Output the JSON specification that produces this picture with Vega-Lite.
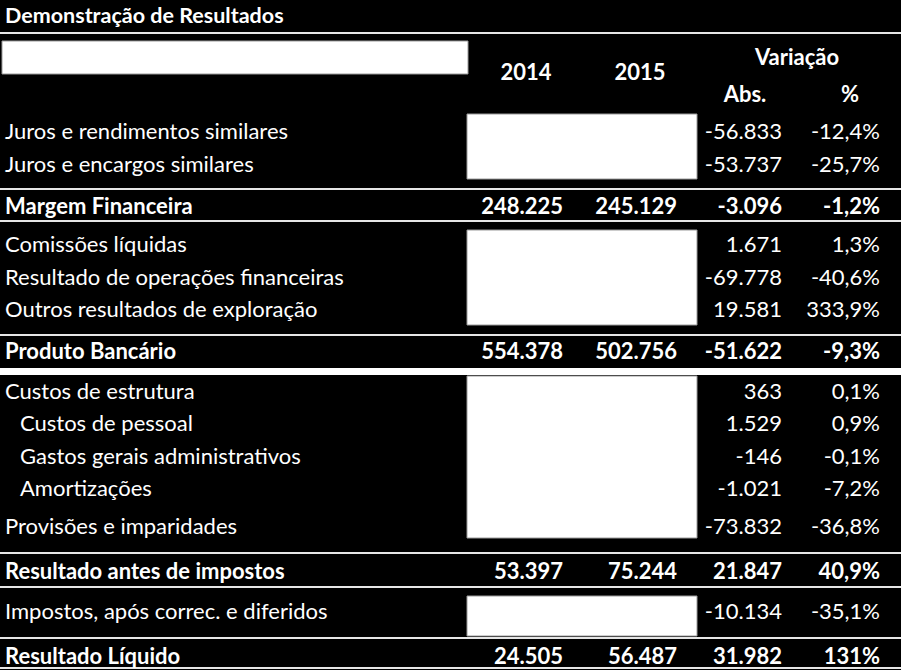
{
  "$schema": "https://vega.github.io/schema/vega-lite/v6.json",
  "width": 901,
  "height": 670,
  "autosize": {"type": "none"},
  "padding": 0,
  "background": "#000000",
  "config": {"view": {"stroke": null}},
  "datasets": {
    "cols": [
      {"col": "label", "x": 5},
      {"col": "ind", "x": 20},
      {"col": "v2014", "x": 563},
      {"col": "v2015", "x": 677},
      {"col": "abs", "x": 782},
      {"col": "pct", "x": 880},
      {"col": "h2014", "x": 526},
      {"col": "h2015", "x": 640},
      {"col": "hvar", "x": 797},
      {"col": "habs", "x": 745},
      {"col": "hpct", "x": 850}
    ],
    "rows": [
      {"row": "title", "y": 17},
      {"row": "hvar", "y": 58},
      {"row": "hyear", "y": 73},
      {"row": "hsub", "y": 95},
      {"row": "r1", "y": 132},
      {"row": "r2", "y": 165},
      {"row": "mf", "y": 207},
      {"row": "r3", "y": 245},
      {"row": "r4", "y": 278},
      {"row": "r5", "y": 310},
      {"row": "pb", "y": 352},
      {"row": "r6", "y": 392},
      {"row": "r7", "y": 424},
      {"row": "r8", "y": 457},
      {"row": "r9", "y": 489},
      {"row": "r10", "y": 527},
      {"row": "rai", "y": 572},
      {"row": "r11", "y": 612},
      {"row": "rl", "y": 657}
    ],
    "boxes": [
      {"box": "header", "x": 2, "x2": 468, "y": 41, "y2": 74},
      {"box": "b1", "x": 467, "x2": 697, "y": 114, "y2": 179},
      {"box": "b2", "x": 467, "x2": 697, "y": 230, "y2": 325},
      {"box": "b3", "x": 467, "x2": 697, "y": 376, "y2": 538},
      {"box": "b4", "x": 467, "x2": 697, "y": 596, "y2": 636}
    ],
    "lines": [
      {"y": 33}, {"y": 189}, {"y": 221}, {"y": 335}, {"y": 553}, {"y": 587}, {"y": 638}, {"y": 668}
    ],
    "bands": [
      {"x": 0, "x2": 901, "y": 368, "y2": 375}
    ],
    "cells": [
      {"row": "title", "col": "label", "text": "Demonstração de Resultados", "kind": "tb"},
      {"row": "hyear", "col": "h2014", "text": "2014", "kind": "cb"},
      {"row": "hyear", "col": "h2015", "text": "2015", "kind": "cb"},
      {"row": "hvar", "col": "hvar", "text": "Variação", "kind": "cb"},
      {"row": "hsub", "col": "habs", "text": "Abs.", "kind": "cb"},
      {"row": "hsub", "col": "hpct", "text": "%", "kind": "cb"},

      {"row": "r1", "col": "label", "text": "Juros e rendimentos similares", "kind": "ln"},
      {"row": "r1", "col": "abs", "text": "-56.833", "kind": "rn"},
      {"row": "r1", "col": "pct", "text": "-12,4%", "kind": "rn"},
      {"row": "r2", "col": "label", "text": "Juros e encargos similares", "kind": "ln"},
      {"row": "r2", "col": "abs", "text": "-53.737", "kind": "rn"},
      {"row": "r2", "col": "pct", "text": "-25,7%", "kind": "rn"},

      {"row": "mf", "col": "label", "text": "Margem Financeira", "kind": "lb"},
      {"row": "mf", "col": "v2014", "text": "248.225", "kind": "rb"},
      {"row": "mf", "col": "v2015", "text": "245.129", "kind": "rb"},
      {"row": "mf", "col": "abs", "text": "-3.096", "kind": "rb"},
      {"row": "mf", "col": "pct", "text": "-1,2%", "kind": "rb"},

      {"row": "r3", "col": "label", "text": "Comissões líquidas", "kind": "ln"},
      {"row": "r3", "col": "abs", "text": "1.671", "kind": "rn"},
      {"row": "r3", "col": "pct", "text": "1,3%", "kind": "rn"},
      {"row": "r4", "col": "label", "text": "Resultado de operações financeiras", "kind": "ln"},
      {"row": "r4", "col": "abs", "text": "-69.778", "kind": "rn"},
      {"row": "r4", "col": "pct", "text": "-40,6%", "kind": "rn"},
      {"row": "r5", "col": "label", "text": "Outros resultados de exploração", "kind": "ln"},
      {"row": "r5", "col": "abs", "text": "19.581", "kind": "rn"},
      {"row": "r5", "col": "pct", "text": "333,9%", "kind": "rn"},

      {"row": "pb", "col": "label", "text": "Produto Bancário", "kind": "lb"},
      {"row": "pb", "col": "v2014", "text": "554.378", "kind": "rb"},
      {"row": "pb", "col": "v2015", "text": "502.756", "kind": "rb"},
      {"row": "pb", "col": "abs", "text": "-51.622", "kind": "rb"},
      {"row": "pb", "col": "pct", "text": "-9,3%", "kind": "rb"},

      {"row": "r6", "col": "label", "text": "Custos de estrutura", "kind": "ln"},
      {"row": "r6", "col": "abs", "text": "363", "kind": "rn"},
      {"row": "r6", "col": "pct", "text": "0,1%", "kind": "rn"},
      {"row": "r7", "col": "ind", "text": "Custos de pessoal", "kind": "ln"},
      {"row": "r7", "col": "abs", "text": "1.529", "kind": "rn"},
      {"row": "r7", "col": "pct", "text": "0,9%", "kind": "rn"},
      {"row": "r8", "col": "ind", "text": "Gastos gerais administrativos", "kind": "ln"},
      {"row": "r8", "col": "abs", "text": "-146", "kind": "rn"},
      {"row": "r8", "col": "pct", "text": "-0,1%", "kind": "rn"},
      {"row": "r9", "col": "ind", "text": "Amortizações", "kind": "ln"},
      {"row": "r9", "col": "abs", "text": "-1.021", "kind": "rn"},
      {"row": "r9", "col": "pct", "text": "-7,2%", "kind": "rn"},
      {"row": "r10", "col": "label", "text": "Provisões e imparidades", "kind": "ln"},
      {"row": "r10", "col": "abs", "text": "-73.832", "kind": "rn"},
      {"row": "r10", "col": "pct", "text": "-36,8%", "kind": "rn"},

      {"row": "rai", "col": "label", "text": "Resultado antes de impostos", "kind": "lb"},
      {"row": "rai", "col": "v2014", "text": "53.397", "kind": "rb"},
      {"row": "rai", "col": "v2015", "text": "75.244", "kind": "rb"},
      {"row": "rai", "col": "abs", "text": "21.847", "kind": "rb"},
      {"row": "rai", "col": "pct", "text": "40,9%", "kind": "rb"},

      {"row": "r11", "col": "label", "text": "Impostos, após correc. e diferidos", "kind": "ln"},
      {"row": "r11", "col": "abs", "text": "-10.134", "kind": "rn"},
      {"row": "r11", "col": "pct", "text": "-35,1%", "kind": "rn"},

      {"row": "rl", "col": "label", "text": "Resultado Líquido", "kind": "lb"},
      {"row": "rl", "col": "v2014", "text": "24.505", "kind": "rb"},
      {"row": "rl", "col": "v2015", "text": "56.487", "kind": "rb"},
      {"row": "rl", "col": "abs", "text": "31.982", "kind": "rb"},
      {"row": "rl", "col": "pct", "text": "131%", "kind": "rb"}
    ]
  },
  "layer": [
    {
      "data": {"name": "boxes"},
      "mark": {"type": "rect", "fill": "#ffffff", "stroke": "#9a9a9a", "strokeWidth": 1},
      "encoding": {
        "x": {"field": "x", "type": "quantitative", "scale": {"domain": [0, 901], "nice": false, "zero": false}, "axis": null},
        "x2": {"field": "x2"},
        "y": {"field": "y", "type": "quantitative", "scale": {"domain": [0, 670], "nice": false, "zero": false, "reverse": true}, "axis": null},
        "y2": {"field": "y2"}
      }
    },
    {
      "data": {"name": "bands"},
      "mark": {"type": "rect", "fill": "#ffffff"},
      "encoding": {
        "x": {"field": "x", "type": "quantitative", "axis": null},
        "x2": {"field": "x2"},
        "y": {"field": "y", "type": "quantitative", "axis": null},
        "y2": {"field": "y2"}
      }
    },
    {
      "data": {"name": "lines"},
      "mark": {"type": "rule", "stroke": "#e6e6e6", "strokeWidth": 2},
      "encoding": {
        "y": {"field": "y", "type": "quantitative", "axis": null}
      }
    },
    {
      "data": {"name": "cells"},
      "transform": [
        {"filter": "datum.kind === 'tb'"},
        {"lookup": "col", "from": {"data": {"name": "cols"}, "key": "col", "fields": ["x"]}},
        {"lookup": "row", "from": {"data": {"name": "rows"}, "key": "row", "fields": ["y"]}}
      ],
      "mark": {"type": "text", "align": "left", "baseline": "middle", "font": "Lato", "fontSize": 21.5, "fontWeight": "bold", "fill": "#ffffff"},
      "encoding": {
        "x": {"field": "x", "type": "quantitative", "axis": null},
        "y": {"field": "y", "type": "quantitative", "axis": null},
        "text": {"field": "text"}
      }
    },
    {
      "data": {"name": "cells"},
      "transform": [
        {"filter": "datum.kind === 'ln'"},
        {"lookup": "col", "from": {"data": {"name": "cols"}, "key": "col", "fields": ["x"]}},
        {"lookup": "row", "from": {"data": {"name": "rows"}, "key": "row", "fields": ["y"]}}
      ],
      "mark": {"type": "text", "align": "left", "baseline": "middle", "font": "Lato", "fontSize": 22, "fill": "#ffffff"},
      "encoding": {
        "x": {"field": "x", "type": "quantitative", "axis": null},
        "y": {"field": "y", "type": "quantitative", "axis": null},
        "text": {"field": "text"}
      }
    },
    {
      "data": {"name": "cells"},
      "transform": [
        {"filter": "datum.kind === 'lb'"},
        {"lookup": "col", "from": {"data": {"name": "cols"}, "key": "col", "fields": ["x"]}},
        {"lookup": "row", "from": {"data": {"name": "rows"}, "key": "row", "fields": ["y"]}}
      ],
      "mark": {"type": "text", "align": "left", "baseline": "middle", "font": "Lato", "fontSize": 22, "fontWeight": "bold", "fill": "#ffffff"},
      "encoding": {
        "x": {"field": "x", "type": "quantitative", "axis": null},
        "y": {"field": "y", "type": "quantitative", "axis": null},
        "text": {"field": "text"}
      }
    },
    {
      "data": {"name": "cells"},
      "transform": [
        {"filter": "datum.kind === 'rn'"},
        {"lookup": "col", "from": {"data": {"name": "cols"}, "key": "col", "fields": ["x"]}},
        {"lookup": "row", "from": {"data": {"name": "rows"}, "key": "row", "fields": ["y"]}}
      ],
      "mark": {"type": "text", "align": "right", "baseline": "middle", "font": "Lato", "fontSize": 22, "fill": "#ffffff"},
      "encoding": {
        "x": {"field": "x", "type": "quantitative", "axis": null},
        "y": {"field": "y", "type": "quantitative", "axis": null},
        "text": {"field": "text"}
      }
    },
    {
      "data": {"name": "cells"},
      "transform": [
        {"filter": "datum.kind === 'rb'"},
        {"lookup": "col", "from": {"data": {"name": "cols"}, "key": "col", "fields": ["x"]}},
        {"lookup": "row", "from": {"data": {"name": "rows"}, "key": "row", "fields": ["y"]}}
      ],
      "mark": {"type": "text", "align": "right", "baseline": "middle", "font": "Lato", "fontSize": 22, "fontWeight": "bold", "fill": "#ffffff"},
      "encoding": {
        "x": {"field": "x", "type": "quantitative", "axis": null},
        "y": {"field": "y", "type": "quantitative", "axis": null},
        "text": {"field": "text"}
      }
    },
    {
      "data": {"name": "cells"},
      "transform": [
        {"filter": "datum.kind === 'cb'"},
        {"lookup": "col", "from": {"data": {"name": "cols"}, "key": "col", "fields": ["x"]}},
        {"lookup": "row", "from": {"data": {"name": "rows"}, "key": "row", "fields": ["y"]}}
      ],
      "mark": {"type": "text", "align": "center", "baseline": "middle", "font": "Lato", "fontSize": 22, "fontWeight": "bold", "fill": "#ffffff"},
      "encoding": {
        "x": {"field": "x", "type": "quantitative", "axis": null},
        "y": {"field": "y", "type": "quantitative", "axis": null},
        "text": {"field": "text"}
      }
    }
  ]
}
